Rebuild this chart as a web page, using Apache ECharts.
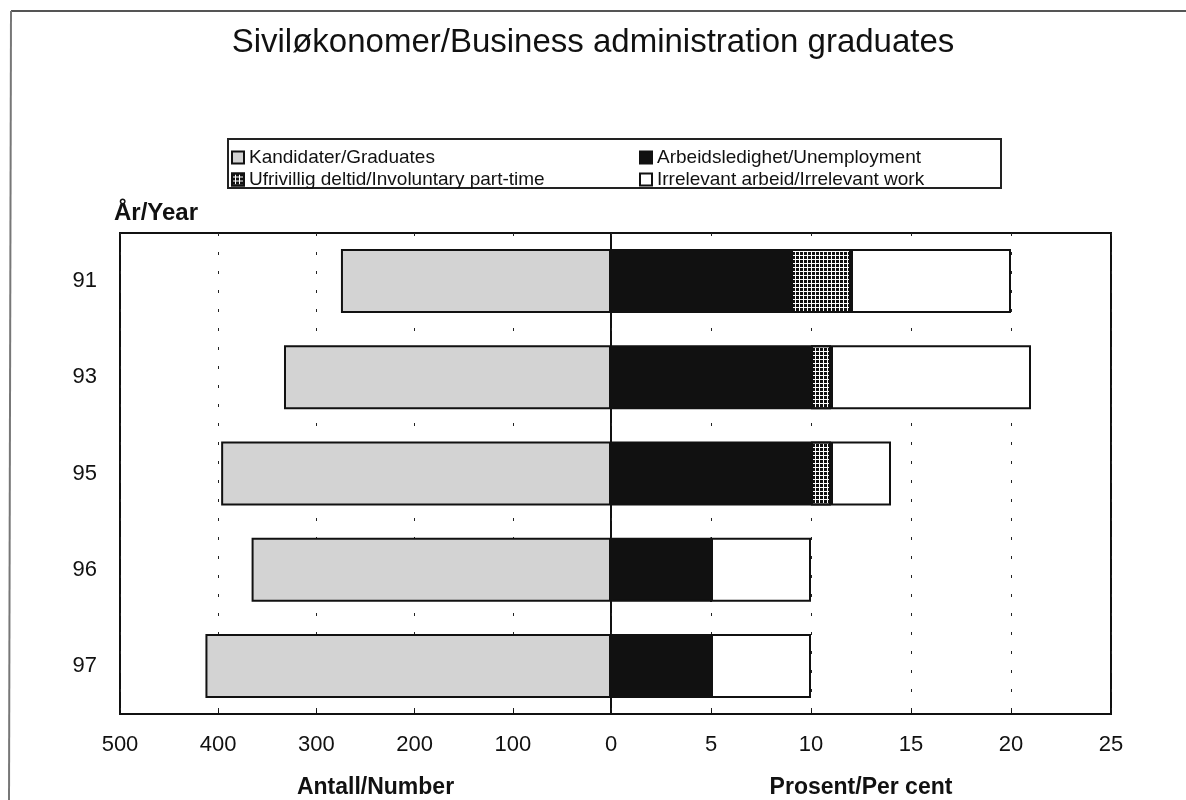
<!DOCTYPE html>
<html><head><meta charset="utf-8">
<script src="https://cdn.jsdelivr.net/npm/echarts@6/dist/echarts.min.js"></script>
<style>html,body{margin:0;padding:0;background:#fff}#c{width:1186px;height:800px}</style>
</head><body><div id="c"></div>
<script>
const years = ['91','93','95','96','97'];
const graduates = [275, 333, 397, 366, 413];
const unemployment = [9, 10, 10, 5, 5];
const partTime = [3, 1, 1, 0, 0];
const irrelevant = [8, 10, 3, 5, 5];
const leftTicks = [0, 100, 200, 300, 400, 500];
const rightTicks = [0, 5, 10, 15, 20, 25];
const names = ['Kandidater/Graduates','Arbeidsledighet/Unemployment','Ufrivillig deltid/Involuntary part-time','Irrelevant arbeid/Irrelevant work'];

const FONT = '"Liberation Sans", Arial, Helvetica, sans-serif';
const ink = '#111';
const chart = echarts.init(document.getElementById('c'));
const axisLabel = {fontFamily: FONT, fontSize: 22, color: ink, margin: 20};
const splitLine = {show: true, lineStyle: {color: '#222', width: 1, type: [3, 16]}};
const border = {borderColor: ink, borderWidth: 2};
const legendText = {fontFamily: FONT, fontSize: 19, color: ink};
chart.setOption({
  animation: false,
  backgroundColor: '#fff',
  title: {text: 'Siviløkonomer/Business administration graduates', left: 'center', top: 21,
    textStyle: {fontFamily: FONT, fontSize: 33, fontWeight: 'normal', color: ink}},
  legend: [
    {data: [names[0], names[2]], orient: 'vertical', left: 226, top: 143, itemGap: 3, itemWidth: 12, itemHeight: 12,
     icon: 'rect', textStyle: legendText},
    {data: [names[1], names[3]], orient: 'vertical', left: 634, top: 143, itemGap: 3, itemWidth: 12, itemHeight: 12,
     icon: 'rect', textStyle: legendText}
  ],
  graphic: [
    {type: 'rect', shape: {x: 228, y: 139, width: 773, height: 49}, style: {fill: 'none', stroke: '#222', lineWidth: 2}, z: -1},
    {type: 'line', shape: {x1: 11, y1: 11, x2: 1186, y2: 11}, style: {stroke: '#555', lineWidth: 2}},
    {type: 'line', shape: {x1: 11, y1: 11, x2: 9, y2: 800}, style: {stroke: '#777', lineWidth: 2}},
    {type: 'text', left: 114, top: 201, style: {text: 'År/Year', fontFamily: FONT, fontSize: 24, fontWeight: 'bold', fill: ink}}
  ],
  grid: [
    {left: 120, top: 233, width: 491, height: 481, show: true, borderColor: ink, borderWidth: 2, backgroundColor: 'transparent', outerBoundsMode: 'none', containLabel: false},
    {left: 611, top: 233, width: 500, height: 481, show: true, borderColor: ink, borderWidth: 2, backgroundColor: 'transparent', outerBoundsMode: 'none', containLabel: false}
  ],
  xAxis: [
    {gridIndex: 0, type: 'value', inverse: true, min: leftTicks[0], max: leftTicks[leftTicks.length-1], interval: 100,
     axisLine: {show: false}, axisTick: {show: true, inside: true, length: 4, lineStyle: {color: ink}},
     axisLabel: Object.assign({showMinLabel: false}, axisLabel), splitLine,
     name: 'Antall/Number', nameLocation: 'middle', nameGap: 62,
     nameTextStyle: {fontFamily: FONT, fontSize: 23, fontWeight: 'bold', color: ink, padding: [0, 0, 0, 20]}},
    {gridIndex: 1, type: 'value', min: rightTicks[0], max: rightTicks[rightTicks.length-1], interval: 5,
     axisLine: {show: false}, axisTick: {show: true, inside: true, length: 4, lineStyle: {color: ink}},
     axisLabel, splitLine,
     name: 'Prosent/Per cent', nameLocation: 'middle', nameGap: 62,
     nameTextStyle: {fontFamily: FONT, fontSize: 23, fontWeight: 'bold', color: ink}}
  ],
  yAxis: [
    {gridIndex: 0, type: 'category', data: years, inverse: true, axisLine: {show: false}, axisTick: {show: false},
     axisLabel: {fontFamily: FONT, fontSize: 22, color: ink, margin: 23}},
    {gridIndex: 1, type: 'category', data: years, inverse: true, show: false}
  ],
  series: [
    {name: names[0], type: 'bar', xAxisIndex: 0, yAxisIndex: 0, data: graduates, barWidth: 64,
     itemStyle: Object.assign({color: '#d3d3d3'}, border)},
    {name: names[1], type: 'bar', xAxisIndex: 1, yAxisIndex: 1, stack: 'r', data: unemployment, barWidth: 64,
     itemStyle: Object.assign({color: '#111'}, border)},
    {name: names[2], type: 'bar', xAxisIndex: 1, yAxisIndex: 1, stack: 'r', data: partTime, barWidth: 64,
     itemStyle: {color: '#fff', borderColor: ink, borderWidth: 2,
       decal: {symbol: 'rect', symbolSize: 1, color: '#111', dashArrayX: [3, 1], dashArrayY: [3, 1], rotation: 0}}},
    {name: names[3], type: 'bar', xAxisIndex: 1, yAxisIndex: 1, stack: 'r', data: irrelevant, barWidth: 64,
     itemStyle: Object.assign({color: '#fff'}, border)}
  ]
});
</script></body></html>
